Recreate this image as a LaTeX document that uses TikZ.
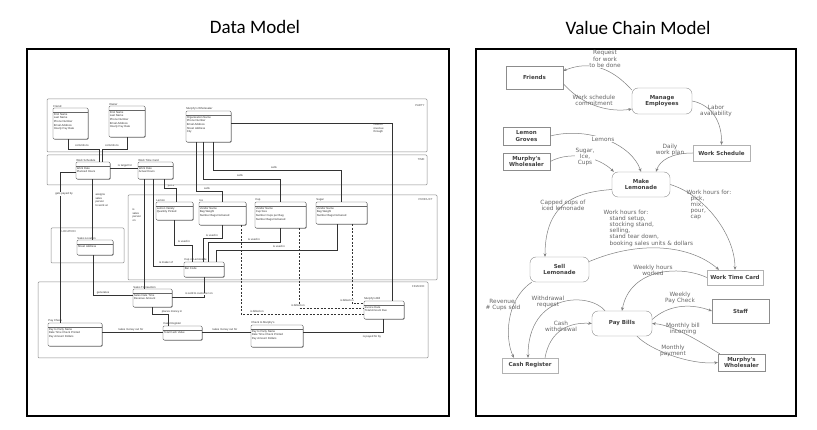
\documentclass[tikz,border=0pt]{standalone}
\usepackage{fontspec}
\setmainfont{Carlito}
\newfontfamily\dvs{DejaVu Sans}
\newfontfamily\arl{Liberation Sans}
\usepackage{tikz}
\usetikzlibrary{arrows.meta,calc,positioning,shadows}
\newcommand{\tinyf}{\arl\fontsize{2.8}{3.7}\selectfont}
\tikzset{
  frame/.style={draw=black,line width=2.4pt},
  grp/.style={draw=black!45,line width=0.5pt,rounded corners=1pt},
  grplbl/.style={font=\tinyf,text=black!70,inner sep=0.3pt},
  ent/.style={draw=black!70,fill=white,rounded corners=1.2pt,line width=0.4pt,inner sep=0pt,
    drop shadow={shadow xshift=0.7pt,shadow yshift=-0.7pt,fill=black!55,opacity=1},
    path picture={\draw[black!60,line width=0.3pt]
      ([yshift=-4pt]path picture bounding box.north west) --
      ([yshift=-4pt]path picture bounding box.north east);}},
  ttl/.style={anchor=south west,inner sep=0.4pt,font=\tinyf,text=black!80},
  att/.style={anchor=north west,inner sep=0.8pt,yshift=-4.3pt,align=left,font=\tinyf,text=black!80},
  rel/.style={draw=black!80,line width=0.35pt},
  bill/.style={rel,dash pattern=on 2pt off 1.5pt},
  rl/.style={font=\tinyf,text=black!80,fill=white,inner sep=0.3pt,align=left},
  vbox/.style={draw=black!45,fill=white,align=center,inner sep=0pt,text=black!75,
    font=\dvs\bfseries\fontsize{5.5}{6.5}\selectfont},
  ext/.style={vbox,drop shadow={shadow xshift=1.2pt,shadow yshift=-1.2pt,fill=black!70,opacity=1}},
  src/.style={vbox,drop shadow={shadow xshift=1pt,shadow yshift=-1pt,fill=black!25,opacity=1}},
  proc/.style={vbox,rounded corners=6pt},
  store/.style={vbox,draw=black!30,drop shadow={shadow xshift=0.8pt,shadow yshift=-0.8pt,fill=black!15,opacity=1}},
  flow/.style={draw=black!50,line width=0.5pt,-{Stealth[length=3.5pt,width=3pt]}},
  vlbl/.style={font=\dvs\fontsize{5.8}{6.2}\selectfont,text=black!60,align=center,inner sep=0.5pt,fill=white},
}
\begin{document}
\begin{tikzpicture}[x=1pt,y=-1pt]
\fill[white] (0,0) rectangle (817,430);
\useasboundingbox (0,0) rectangle (817,430);
% titles and frames
\node[font=\fontsize{19}{22}\selectfont] (dmtitle) at (255,27) {Data Model};
\node[font=\fontsize{19}{22}\selectfont] (vctitle) at (638,28) {Value Chain Model};
\draw[frame] (27,49) rectangle (449,416);
\draw[frame] (476,49) rectangle (796,416);

% ---------------- data model ----------------
\draw[grp] (47,99) rectangle (427,152);
\draw[grp] (47,155) rectangle (427,185);
\draw[grp] (128,195) rectangle (437,280);
\draw[grp] (51,228) rectangle (124,263);
\draw[grp] (38,282) rectangle (428,358);
\node[grplbl,anchor=east] (partyL) at (425,106) {PARTY};
\node[grplbl,anchor=east] (timeL) at (425,160) {TIME};
\node[grplbl,anchor=east] (prodL) at (433,200) {PRODUCT};
\node[grplbl,anchor=west] (locL) at (61,232) {LOCATION};
\node[grplbl,anchor=east] (finL) at (425,287) {FINANCE};

\foreach \nm/\xa/\ya/\xb/\yb/\tn/\ta in {
  friend/53/108/88/139/Friend/{First Name\\Last Name\\Phone Number\\Email Address\\Hourly Pay Rate},
  owner/109/106/145/137/Owner/{First Name\\Last Name\\Phone Number\\Email Address\\Hourly Pay Rate},
  murphy/186/111/231/142/Murphy's Wholesaler/{Organization Name\\Phone Number\\Email Address\\Street Address\\City},
  worksched/76/162/110/179/Work Schedule/{Work Date\\Planned Hours},
  worktime/138/162/173/179/Work Time Card/{Work Date\\Actual Hours},
  lemon/156/202/193/220/Lemon/{Lemon Variety\\Quantity Picked},
  ice/199/202/246/225/Ice/{Vendor Name\\Bag Weight\\Number Bags Delivered},
  cup/255/202/306/228/Cup/{Vendor Name\\Cup Size\\Number Cups per Bag\\Number Bags Delivered},
  sugar/316/202/367/224/Sugar/{Vendor Name\\Bag Weight\\Number Bags Delivered},
  salesloc/77/240/113/255/Sales Location/{Street Address},
  cupol/184/262/224/277/Cup of Lemonade/{Bar Code},
  salestr/133/289/172/307/Sales Transaction/{Sales Date Time\\Revenue Amount},
  paycheck/48/323/102/346/Pay Check/{Pay to Party Name\\Date Time Check Printed\\Pay Amount Dollars},
  cashreg/163/326/202/340/Cash Register/{Total Cash Value},
  check/251/325/303/347/Check to Murphy's/{Pay to Party Name\\Date Time Check Printed\\Pay Amount Dollars},
  bill/364/301/404/319/Murphy's Bill/{Invoice Date\\Total Amount Due}}
  \node[ent,minimum width={(\xb-\xa)*1pt},minimum height={(\yb-\ya)*1pt},
    label={[ttl]north west:\tn},label={[att]north west:\ta}] (\nm) at ({(\xa+\xb)/2},{(\ya+\yb)/2}) {};

\draw[rel] ([xshift=-2.5pt]friend.south) -- ++(0,10) -| ([xshift=6pt]worksched.north);
\draw[rel] (owner.south) -- ++(0,12) -| ([xshift=9pt]worksched.north);
\draw[rel] ([yshift=2.5pt]worktime.west) -- ([yshift=2.5pt]worksched.east);
\draw[rel] ([yshift=-2pt]worksched.west) -| ([xshift=-15pt]paycheck.north);
\draw[rel] ([xshift=-1pt]worksched.south) -- ([xshift=-1pt]worksched.south |- salesloc.north);
\draw[rel] ([xshift=-2pt]salesloc.south) |- ([yshift=3pt]salestr.west);
\draw[rel] ([xshift=-11.5pt]worktime.south) -- ([xshift=-11.5pt]worktime.south |- salestr.north);
\draw[rel] ([xshift=-2.5pt]worktime.south) |- ([yshift=3.5pt]cupol.west);
\draw[rel] ([xshift=8.5pt]worktime.south) -- ++(0,9) -| ([xshift=1.5pt]lemon.north);
\draw[rel] ([xshift=-12.5pt]murphy.south) -- ++(0,49) -| (ice.north);
\draw[rel] ([xshift=-5.5pt]murphy.south) -- ++(0,37) -| (cup.north);
\draw[rel] ([xshift=4.5pt]murphy.south) -- ++(0,28) -| (sugar.north);
\draw[rel] ([yshift=3.5pt]murphy.east) -| ([xshift=8pt]bill.north);
\draw[rel] ([xshift=-0.5pt]lemon.south) -- ++(0,25) -| ([xshift=-12pt]cupol.north);
\draw[rel] (ice.south) -- ++(0,13) -| ([xshift=-1pt]cupol.north);
\draw[rel] (cup.south) -- ++(0,14) -| ([xshift=4pt]cupol.north);
\draw[rel] ([xshift=-4.5pt]sugar.south) -- ++(0,26) -| ([xshift=12pt]cupol.north);
\draw[rel] (cupol.south) |- ([yshift=1pt]salestr.east);
\draw[rel] ([xshift=-14.5pt]cashreg.north) -- ++(0,-12) -| (salestr.south);
\draw[rel] ([yshift=1pt]cashreg.west) -- ([yshift=1pt]cashreg.west -| paycheck.east);
\draw[rel] ([yshift=1pt]cashreg.east) -- ([yshift=1pt]cashreg.east -| check.west);
\draw[rel] ([xshift=-1pt]bill.south) |- ([yshift=4pt]check.east);
\draw[bill] ([xshift=18.5pt]ice.south) |- ([yshift=-4pt]bill.west);
\draw[bill] ([xshift=18.5pt]cup.south) |- ([yshift=2pt]bill.west);
\draw[bill] ([xshift=10.5pt]sugar.south) |- ([yshift=7pt]bill.west);

\node[rl] (cm1) at (82,146) {commits to};
\node[rl] (cm2) at (112,146) {commits to};
\node[rl] (itf) at (125,165.5) {is target for};
\node[rl] (gpb) at (64,194) {gets payed by};
\node[rl,anchor=north west,fill=none] (asg) at (95,193) {assigns\\sales\\person\\to work at};
\node[rl,anchor=north west,fill=none] (isp) at (132,208) {is\\sales\\person\\on};
\node[rl] (imo) at (166,263) {is maker of};
\node[rl] (pks) at (171,186) {picks};
\node[rl] (sl1) at (207,189) {sells};
\node[rl] (sl2) at (240,176) {sells};
\node[rl] (sl3) at (274,167.5) {sells};
\node[rl,anchor=north west,fill=none] (crt) at (373,123) {collects\\revenue\\through};
\node[rl] (ui1) at (184,242) {is used in};
\node[rl] (ui2) at (212,235.5) {is used in};
\node[rl] (ui3) at (254,239.5) {is used in};
\node[rl] (ui4) at (279,247) {is used in};
\node[rl] (gen) at (103,292.5) {generates};
\node[rl] (stc) at (199,294) {is sold to customer on};
\node[rl] (pmi) at (172,311.5) {places money in};
\node[rl] (tmo1) at (131,329.5) {takes money out for};
\node[rl] (tmo2) at (225,329.5) {takes money out for};
\node[rl] (pfb) at (372,336.5) {is payed for by};
\node[rl] (bo1) at (257,311.5) {is billed on};
\node[rl] (bo2) at (298,305.5) {is billed on};
\node[rl] (bo3) at (347,300.5) {is billed on};

% ---------------- value chain ----------------
\node[ext,minimum width=57pt,minimum height=23pt] (friends) at (534.5,77.5) {Friends};
\node[proc,minimum width=60pt,minimum height=26pt] (manage) at (662,101) {Manage\\Employees};
\node[src,minimum width=47pt,minimum height=18pt] (groves) at (526.5,136) {Lemon\\Groves};
\node[src,minimum width=47pt,minimum height=17pt] (murphyA) at (526.5,161.5) {Murphy's\\Wholesaler};
\node[store,minimum width=57pt,minimum height=16pt] (worksch) at (721.5,153) {Work Schedule};
\node[proc,minimum width=58pt,minimum height=25pt] (make) at (641,184.5) {Make\\Lemonade};
\node[proc,minimum width=59pt,minimum height=25pt] (sell) at (559.5,269.5) {Sell\\Lemonade};
\node[store,minimum width=56pt,minimum height=15pt] (worktc) at (735,277.5) {Work Time Card};
\node[proc,minimum width=60pt,minimum height=25pt] (paybills) at (622,323.5) {Pay Bills};
\node[ext,minimum width=57pt,minimum height=24pt] (staff) at (740.5,311) {Staff};
\node[ext,minimum width=47pt,minimum height=17pt] (murphyB) at (741.5,362.5) {Murphy's\\Wholesaler};
\node[store,minimum width=56pt,minimum height=15pt] (cashreg2) at (530,365.5) {Cash Register};

\draw[flow] (manage.160) .. controls (612,68) and (590,60) .. (friends.13);
\draw[flow] (friends.-12) .. controls (585,108) and (612,112) .. (manage.195);
\draw[flow] (groves.east) .. controls (590,126) and (632,145) .. (make.north);
\draw[flow] (murphyA.east) .. controls (572,150) and (600,158) .. ([xshift=2pt]make.north west);
\draw[flow] (manage.east) .. controls (712,105) and (722,122) .. (worksch.north);
\draw[flow] (worksch.west) .. controls (672,153) and (660,160) .. ([xshift=15pt]make.north);
\draw[flow] ([yshift=-5pt]make.west) .. controls (580,192) and (545,200) .. ([xshift=-14.5pt]sell.north);
\draw[flow] (sell.15) .. controls (640,240) and (690,245) .. ([xshift=-16pt]worktc.north);
\draw[flow] (make.east) .. controls (705,195) and (735,235) .. (worktc.north);
\draw[flow] (worktc.west) .. controls (680,265) and (630,268) .. (paybills.north);
\draw[flow] ([yshift=4pt]paybills.east) .. controls (668,305) and (690,303) .. (staff.west);
\draw[flow] ([xshift=2pt]murphyB.north west) .. controls (705,345) and (675,325) .. (paybills.east);
\draw[flow] ([xshift=15pt]paybills.south) .. controls (650,350) and (690,365) .. (murphyB.west);
\draw[flow] ([xshift=2pt]sell.south west) .. controls (505,300) and (505,340) .. ([xshift=-16pt]cashreg2.north);
\draw[flow] ([xshift=-17pt]paybills.north) .. controls (590,292) and (528,292) .. ([xshift=-2pt]cashreg2.north);
\draw[flow] ([xshift=15pt]cashreg2.north) .. controls (550,330) and (570,322) .. (paybills.west);

\node[vlbl] (rqL) at (605,59) {Request\\for work\\to be done};
\node[vlbl,fill=none] (wscL) at (594,100) {Work schedule\\commitment};
\node[vlbl] (lmL) at (603,139) {Lemons};
\node[vlbl] (sicL) at (585,157) {Sugar,\\Ice,\\Cups};
\node[vlbl,fill=none] (labL) at (716,111) {Labor\\availability};
\node[vlbl,fill=none] (dwpL) at (670,150) {Daily\\work plan};
\node[vlbl,fill=none] (capL) at (563,205) {Capped cups of\\iced lemonade};
\node[vlbl,fill=none,anchor=north west,align=left] (whsL) at (603,209)
  {Work hours for:\\\hspace*{6pt}stand setup,\\\hspace*{6pt}stocking stand,\\\hspace*{6pt}selling,\\\hspace*{6pt}stand tear down,\\\hspace*{6pt}booking sales units \& dollars};
\node[vlbl,fill=none,anchor=north west,align=left] (whpL) at (686,189)
  {Work hours for:\\\hspace*{4pt}pick,\\\hspace*{4pt}mix,\\\hspace*{4pt}pour,\\\hspace*{4pt}cap};
\node[vlbl,fill=none] (whwL) at (653,270) {Weekly hours\\worked};
\node[vlbl,fill=none] (wpcL) at (680,298) {Weekly\\Pay Check};
\node[vlbl,fill=none] (mbiL) at (683,329) {Monthly bill\\incoming};
\node[vlbl,fill=none] (mpL) at (673,351) {Monthly\\payment};
\node[vlbl,fill=none] (revL) at (503,305) {Revenue,\\\# Cups sold};
\node[vlbl,fill=none] (wrL) at (548,302) {Withdrawal\\request};
\node[vlbl,fill=none] (cwL) at (561,326) {Cash\\withdrawal};
\end{tikzpicture}
\end{document}
